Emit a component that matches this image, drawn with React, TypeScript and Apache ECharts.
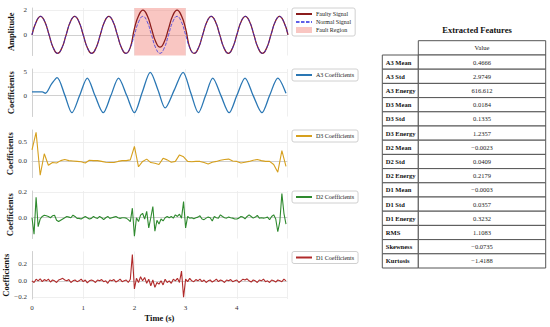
import { useEffect, useRef } from 'react';
import * as echarts from 'echarts';

const FONT = 'Liberation Serif, DejaVu Serif, serif';

// Panel 1: signals sampled every 1/12 s
const SIG_DT = 1 / 12;
const NORMAL = [
  0, 1.06, 1.5, 1.06, 0, -1.06, -1.5, -1.06,
  0, 1.06, 1.5, 1.06, 0, -1.06, -1.5, -1.06,
  0, 1.06, 1.5, 1.06, 0, -1.06, -1.5, -1.06,
  0, 1.06, 1.5, 1.06, 0, -1.06, -1.5, -1.06,
  0, 1.06, 1.5, 1.06, 0, -1.06, -1.5, -1.06,
  0, 1.06, 1.5, 1.06, 0, -1.06, -1.5, -1.06,
  0, 1.06, 1.5, 1.06, 0, -1.06, -1.5, -1.06,
  0, 1.06, 1.5, 1.06, 0,
];
const FAULTY = [
  0, 1.06, 1.5, 1.06, 0, -1.06, -1.5, -1.06,
  0, 1.06, 1.5, 1.06, 0, -1.06, -1.5, -1.06,
  0, 1.06, 1.5, 1.06, 0, -1.06, -1.5, -1.06,
  0.5, 1.56, 2.0, 1.56, 0.5, -0.56, -1.0, -0.56,
  0.5, 1.56, 2.0, 1.56, 0.5, -1.06, -1.5, -1.06,
  0, 1.06, 1.5, 1.06, 0, -1.06, -1.5, -1.06,
  0, 1.06, 1.5, 1.06, 0, -1.06, -1.5, -1.06,
  0, 1.06, 1.5, 1.06, 0,
];
const FAULT_START = 2;
const FAULT_END = 3;

// Panel 2: A3 approximation coefficients (key points)
const A3_T = [0, 0.1, 0.2, 0.26, 0.38, 0.49, 0.64, 0.78, 0.93, 1.08, 1.23, 1.39, 1.54, 1.69, 1.85, 2.0, 2.15, 2.31, 2.46, 2.6, 2.78, 2.95, 3.1, 3.25, 3.39, 3.53, 3.69, 3.85, 4.0, 4.16, 4.32, 4.49, 4.64, 4.8, 4.96];
const A3_V = [0.8, 0.8, 0.8, 0.5, 2.4, 3.8, 0.1, -3.6, 0.0, 3.7, 0.0, -3.6, 0.0, 3.7, 0.0, -3.6, 0.6, 4.9, 1.2, -2.6, 1.2, 4.9, 0.6, -3.6, 0.0, 3.7, 0.0, -3.6, 0.0, 3.7, 0.0, -3.6, 0.0, 3.7, 0.5];

// Panel 3: D3 detail coefficients, every 0.08 s
const D3_DT = 0.08;
const D3_V = [
  0.30, 0.76, -0.36, 0.20, -0.10, -0.03, -0.04, 0.02, 0.05, 0.02,
  0.01, 0.0, -0.01, -0.04, 0.03, 0.02, 0.02, 0.0, -0.02, -0.03,
  -0.03, 0.0, 0.02, 0.02, 0.04, 0.39, -0.14, 0.0, 0.06, -0.03,
  -0.05, -0.08, 0.08, 0.04, -0.02, 0.0, 0.17, 0.12, 0.0, -0.01,
  0.0, 0.0, -0.03, -0.07, -0.02, 0.0, 0.03, 0.05, 0.06, 0.01,
  0.0, -0.04, -0.02, 0.0, 0.03, 0.05, 0.02, 0.0, 0.0, -0.08,
  -0.28, 0.28, -0.13,
];

// Panel 4: D2 detail coefficients, every 0.04 s
const D2_DT = 0.04;
const D2_V = [
  0.0, -0.13, 0.16, -0.07, -0.01, 0.01, 0.02, 0.015, 0.01, 0.0,
  0.015, 0.02, -0.02, -0.03, -0.02, -0.01, 0.0, 0.01, 0.005, 0.0,
  0.02, 0.01, -0.005, -0.005, -0.01, 0.0, 0.01, 0.0, -0.01, -0.005,
  0.01, 0.0, -0.005, 0.01, 0.0, -0.015, 0.0, 0.01, -0.005, 0.0,
  0.005, 0.01, 0.0, -0.005, 0.0, 0.0, -0.003, -0.015, -0.03, 0.075,
  -0.145, 0.0, -0.03, 0.02, 0.035, -0.01, 0.05, -0.08, 0.0, 0.088,
  -0.106, -0.02, -0.05, -0.01, -0.025, 0.0, 0.01, 0.0, 0.01, -0.003,
  0.023, 0.01, 0.028, -0.003, 0.127, -0.08, 0.01, -0.003, 0.0, -0.008,
  0.0, 0.005, 0.015, -0.01, -0.015, -0.003, 0.005, 0.0, -0.025, 0.01,
  0.0, -0.003, 0.023, 0.01, 0.0, -0.003, 0.005, 0.0, -0.003, -0.01,
  -0.01, -0.003, 0.01, 0.005, -0.008, 0.01, 0.023, 0.01, -0.003, 0.005,
  0.018, -0.003, 0.0, -0.003, 0.0, 0.005, -0.016, 0.01, 0.023, -0.01,
  -0.11, -0.03, 0.19, 0.035, -0.05,
];

// Panel 5: D1 detail coefficients, every 0.04 s
const D1_DT = 0.04;
const D1_V = [
  0.0, -0.02, 0.02, 0.0, 0.025, -0.01, 0.015, 0.0, 0.02, -0.015,
  0.01, 0.0, -0.02, 0.01, 0.02, 0.03, 0.01, 0.0, 0.015, -0.02,
  0.0, 0.01, -0.01, 0.0, 0.02, -0.01, 0.01, -0.025, 0.0, 0.01,
  0.0, -0.02, 0.01, 0.0, 0.015, -0.01, 0.0, -0.03, 0.01, 0.0,
  0.015, -0.015, 0.0, 0.02, -0.01, 0.0, 0.01, -0.02, 0.02, 0.32,
  -0.10, 0.03, -0.02, 0.05, 0.0, 0.04, -0.03, 0.02, -0.06, 0.01,
  -0.08, -0.02, -0.04, 0.0, -0.05, 0.02, -0.02, 0.0, -0.03, 0.02,
  0.0, 0.03, -0.02, 0.12, -0.20, 0.02, -0.01, 0.03, 0.0, -0.01,
  0.015, 0.0, 0.02, -0.01, 0.01, -0.02, 0.0, 0.01, -0.015, 0.0,
  0.02, -0.01, 0.01, 0.0, -0.02, 0.01, 0.0, 0.015, -0.01, 0.0,
  0.01, -0.02, 0.0, 0.02, 0.01, 0.025, 0.0, -0.015, 0.01, 0.0,
  -0.02, 0.01, 0.0, 0.02, -0.01, 0.0, -0.02, 0.01, 0.0, -0.015,
  0.01, 0.0, -0.01, 0.02, 0.0,
];

// Axes
const Y_TITLES = ['Amplitude', 'Coefficients', 'Coefficients', 'Coefficients', 'Coefficients'];
const Y_MIN = [-1.675, -4.4, -0.42, -0.163, -0.222];
const Y_MAX = [2.175, 5.6, 0.82, 0.21, 0.358];
const Y_TICKS = [[0, 2], [0, 5], [0, 0.5], [0, 0.2], [-0.2, 0, 0.2]];
const Y_DEC = [0, 0, 1, 1, 1];
const X_MAX = 4.98;

// Table
const FEATURE_NAMES = ['A3 Mean', 'A3 Std', 'A3 Energy', 'D3 Mean', 'D3 Std', 'D3 Energy', 'D2 Mean', 'D2 Std', 'D2 Energy', 'D1 Mean', 'D1 Std', 'D1 Energy', 'RMS', 'Skewness', 'Kurtosis'];
const FEATURE_VALUES = ['0.4666', '2.9749', '616.612', '0.0184', '0.1335', '1.2357', '\u22120.0023', '0.0409', '0.2179', '\u22120.0003', '0.0357', '0.3232', '1.1083', '\u22120.0735', '\u22121.4188'];

const PANEL_LEFT = 32;
const PANEL_WIDTH = 255;
const PANEL_HEIGHT = 47.5;
const PANEL_TOPS = [8, 69, 130, 191, 251.5];

const REGION_COLOR = 'rgba(240,120,110,0.42)';
const NORMAL_COLOR = 'rgba(50,50,225,0.78)';

function pairs(vals: number[], dt: number) {
  return vals.map((v, i) => [i * dt, v]);
}

export default function App() {
  const ref = useRef<HTMLDivElement>(null);
  useEffect(() => {
    if (!ref.current) return;
    const chart = echarts.init(ref.current, undefined, { renderer: 'svg' });

    const grids = PANEL_TOPS.map((t) => ({ left: PANEL_LEFT, width: PANEL_WIDTH, top: t, height: PANEL_HEIGHT }));
    const xAxes = PANEL_TOPS.map((_, i) => ({
      type: 'value', gridIndex: i, min: 0, max: X_MAX, interval: 1,
      axisLabel: { show: i === 4, showMaxLabel: false, fontSize: 7, color: '#333', fontFamily: FONT, margin: 5 },
      axisTick: { show: false },
      axisLine: { show: true, lineStyle: { color: '#d0d0d0', width: 1 } },
      splitLine: { show: true, lineStyle: { color: '#ebebeb', width: 0.8 } },
      name: i === 4 ? 'Time (s)' : '',
      nameLocation: 'middle', nameGap: 14,
      nameTextStyle: { fontFamily: FONT, fontWeight: 'bold', fontSize: 8.5, color: '#111' },
    }));
    const yAxes = PANEL_TOPS.map((_, i) => ({
      type: 'value', gridIndex: i, min: Y_MIN[i], max: Y_MAX[i],
      axisLabel: {
        customValues: Y_TICKS[i], fontSize: 7, color: '#333', fontFamily: FONT, margin: 5,
        formatter: (v: number) => v.toFixed(Y_DEC[i]).replace('-', '\u2212'),
      },
      axisTick: { show: false, customValues: Y_TICKS[i] },
      axisLine: { show: true, lineStyle: { color: '#d0d0d0', width: 1 } },
      splitLine: { show: true, lineStyle: { color: '#ebebeb', width: 0.8 } },
      name: Y_TITLES[i], nameLocation: 'middle', nameGap: 17,
      nameTextStyle: { fontFamily: FONT, fontWeight: 'bold', fontSize: 8.5, color: '#111' },
    }));

    const lineBase = { type: 'line', symbol: 'none', silent: true };
    const series: any[] = [
      {
        ...lineBase, name: 'Fault Region', xAxisIndex: 0, yAxisIndex: 0, data: [],
        itemStyle: { color: REGION_COLOR }, lineStyle: { color: REGION_COLOR },
        markArea: { silent: true, itemStyle: { color: REGION_COLOR }, data: [[{ xAxis: FAULT_START }, { xAxis: FAULT_END }]] },
      },
      {
        ...lineBase, name: 'Faulty Signal', xAxisIndex: 0, yAxisIndex: 0, smooth: 0.5,
        data: pairs(FAULTY, SIG_DT), itemStyle: { color: '#8b1c1c' }, lineStyle: { color: '#8b1c1c', width: 1.3 },
      },
      {
        ...lineBase, name: 'Normal Signal', xAxisIndex: 0, yAxisIndex: 0, smooth: 0.5,
        data: pairs(NORMAL, SIG_DT), itemStyle: { color: NORMAL_COLOR },
        lineStyle: { color: NORMAL_COLOR, width: 1, type: [3.5, 1.5] },
      },
      {
        ...lineBase, name: 'A3 Coefficients', xAxisIndex: 1, yAxisIndex: 1, smooth: 0.3,
        data: A3_T.map((t, i) => [t, A3_V[i]]), itemStyle: { color: '#2a77b4' }, lineStyle: { color: '#2a77b4', width: 1.3 },
      },
      {
        ...lineBase, name: 'D3 Coefficients', xAxisIndex: 2, yAxisIndex: 2,
        data: pairs(D3_V, D3_DT), itemStyle: { color: '#d6a01e' }, lineStyle: { color: '#d6a01e', width: 1.1 },
      },
      {
        ...lineBase, name: 'D2 Coefficients', xAxisIndex: 3, yAxisIndex: 3,
        data: pairs(D2_V, D2_DT), itemStyle: { color: '#2f8a2f' }, lineStyle: { color: '#2f8a2f', width: 1.1 },
      },
      {
        ...lineBase, name: 'D1 Coefficients', xAxisIndex: 4, yAxisIndex: 4,
        data: pairs(D1_V, D1_DT), itemStyle: { color: '#b02a2a' }, lineStyle: { color: '#b02a2a', width: 1.1 },
      },
    ];

    const legendBase = {
      orient: 'vertical', left: 292, itemWidth: 16, itemHeight: 6, itemGap: 2,
      padding: [3, 4, 3, 3], borderColor: '#d0d0d0', borderWidth: 1, borderRadius: 2,
      backgroundColor: '#fff', selectedMode: false,
      itemStyle: { opacity: 0 },
      textStyle: { fontFamily: FONT, fontSize: 6, color: '#222', padding: [0, 0, 0, -1] },
    };
    const legends = [
      {
        ...legendBase, top: PANEL_TOPS[0],
        data: ['Faulty Signal', 'Normal Signal', { name: 'Fault Region', icon: 'rect', itemStyle: { color: REGION_COLOR, opacity: 1 } }],
      },
      { ...legendBase, top: PANEL_TOPS[1], data: ['A3 Coefficients'] },
      { ...legendBase, top: PANEL_TOPS[2], data: ['D3 Coefficients'] },
      { ...legendBase, top: PANEL_TOPS[3], data: ['D2 Coefficients'] },
      { ...legendBase, top: PANEL_TOPS[4], data: ['D1 Coefficients'] },
    ];

    // Table
    const TBL_LEFT = 382.3;
    const TBL_DIV = 418.3;
    const TBL_RIGHT = 545.7;
    const HEAD_TOP = 40.7;
    const ROW_H = 14.2;
    const BODY_TOP = 55;
    const border = { stroke: '#555', lineWidth: 1, fill: '#fff' };
    const graphics: any[] = [
      { type: 'text', x: 477, y: 30, style: { text: 'Extracted Features', fontFamily: FONT, fontWeight: 'bold', fontSize: 8.5, fill: '#111', align: 'center', verticalAlign: 'middle' } },
      { type: 'rect', shape: { x: TBL_DIV, y: HEAD_TOP, width: TBL_RIGHT - TBL_DIV, height: BODY_TOP - HEAD_TOP }, style: border },
      { type: 'text', x: (TBL_DIV + TBL_RIGHT) / 2, y: (HEAD_TOP + BODY_TOP) / 2, style: { text: 'Value', fontFamily: FONT, fontSize: 6.5, fill: '#222', align: 'center', verticalAlign: 'middle' } },
    ];
    FEATURE_NAMES.forEach((name, i) => {
      const y = BODY_TOP + i * ROW_H;
      graphics.push(
        { type: 'rect', shape: { x: TBL_LEFT, y, width: TBL_DIV - TBL_LEFT, height: ROW_H }, style: border },
        { type: 'rect', shape: { x: TBL_DIV, y, width: TBL_RIGHT - TBL_DIV, height: ROW_H }, style: border },
        { type: 'text', x: TBL_LEFT + 3.5, y: y + ROW_H / 2, style: { text: name, fontFamily: FONT, fontWeight: 'bold', fontSize: 6.5, fill: '#111', align: 'left', verticalAlign: 'middle' } },
        { type: 'text', x: (TBL_DIV + TBL_RIGHT) / 2, y: y + ROW_H / 2, style: { text: FEATURE_VALUES[i], fontFamily: FONT, fontSize: 6.5, fill: '#222', align: 'center', verticalAlign: 'middle' } },
      );
    });

    chart.setOption({
      animation: false,
      backgroundColor: '#fff',
      textStyle: { fontFamily: FONT },
      grid: grids,
      xAxis: xAxes,
      yAxis: yAxes,
      legend: legends,
      series,
      graphic: graphics,
    } as any);
    return () => chart.dispose();
  }, []);
  return <div ref={ref} style={{ position: 'absolute', left: 0, top: 0, width: 550, height: 327 }} />;
}
